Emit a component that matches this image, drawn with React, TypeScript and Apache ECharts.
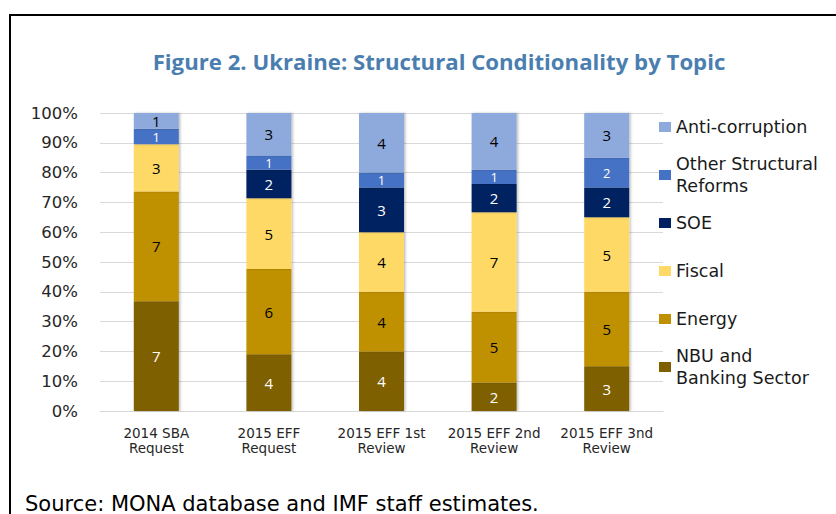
import React, { useEffect, useRef } from "react";
import * as echarts from "echarts";

const categories = ["2014 SBA\nRequest", "2015 EFF\nRequest", "2015 EFF 1st\nReview", "2015 EFF 2nd\nReview", "2015 EFF 3nd\nReview"];
const nbu = [7, 4, 4, 2, 3];
const energy = [7, 6, 4, 5, 5];
const fiscal = [3, 5, 4, 7, 5];
const soe = [0, 2, 3, 2, 2];
const otherReforms = [1, 1, 1, 1, 2];
const antiCorruption = [1, 3, 4, 4, 3];
const yTicks = [0, 10, 20, 30, 40, 50, 60, 70, 80, 90, 100];

const seriesDefs = [
  { name: "NBU and\nBanking Sector", data: nbu, color: "#7F6000", label: "#ffffff", labelSize: 15, legendY: 367, twoLine: true },
  { name: "Energy", data: energy, color: "#BF9000", label: "#000000", labelSize: 15, legendY: 319, twoLine: false },
  { name: "Fiscal", data: fiscal, color: "#FFD966", label: "#000000", labelSize: 15, legendY: 271, twoLine: false },
  { name: "SOE", data: soe, color: "#002060", label: "#ffffff", labelSize: 15, legendY: 223, twoLine: false },
  { name: "Other Structural\nReforms", data: otherReforms, color: "#4472C4", label: "#ffffff", labelSize: 13, legendY: 175, twoLine: true },
  { name: "Anti-corruption", data: antiCorruption, color: "#8EA9DB", label: "#000000", labelSize: 15, legendY: 127, twoLine: false },
];

const FONT = "'Open Sans', 'Noto Sans', sans-serif";
const WIDE = "'DejaVu Sans', 'Open Sans', sans-serif";

export default function App() {
  const ref = useRef<HTMLDivElement>(null);
  useEffect(() => {
    if (!ref.current) return;
    const chart = echarts.init(ref.current, null, { renderer: "svg" });
    const totals = categories.map((_, i) => seriesDefs.reduce((s, d) => s + d.data[i], 0));
    const series = seriesDefs.map((d) => ({
      name: d.name,
      type: "bar",
      stack: "total",
      barWidth: 45,
      data: d.data.map((v, i) => ({ value: (v / totals[i]) * 100, count: v })),
      itemStyle: { color: d.color, shadowColor: "rgba(0,0,0,0.25)", shadowBlur: 2, shadowOffsetX: 1.5 },
      label: {
        show: true,
        position: "inside",
        color: d.label,
        fontFamily: FONT,
        fontSize: d.labelSize,
        lineHeight: 12,
        formatter: (p: any) => (p.data.count ? String(p.data.count) : ""),
      },
    }));
    const legends = seriesDefs.map((d) => {
      const lh = 21.5;
      return {
        data: [d.name],
        orient: "vertical",
        left: 659,
        top: d.twoLine ? d.legendY - 1.5 * lh : d.legendY - lh / 2,
        padding: 0,
        itemWidth: 12,
        itemHeight: 10,
        itemGap: 6,
        icon: "rect",
        selectedMode: false,
        textStyle: {
          fontFamily: WIDE,
          fontSize: 17.5,
          color: "#1a1a1a",
          lineHeight: lh,
          padding: d.twoLine ? [lh, 0, 0, 0] : 0,
        },
      };
    });
    chart.setOption({
      animation: false,
      backgroundColor: "#ffffff",
      title: {
        text: "Figure 2. Ukraine: Structural Conditionality by Topic",
        left: 434,
        textAlign: "center",
        top: 45,
        textStyle: { fontFamily: FONT, fontSize: 22.2, fontWeight: "bold", color: "#4A7EB0" },
      },
      graphic: [
        {
          type: "rect",
          shape: { x: 10, y: 15, width: 900, height: 600 },
          style: { fill: "none", stroke: "#000000", lineWidth: 2 },
          silent: true,
        },
        {
          type: "text",
          left: 25,
          top: 493,
          style: { text: "Source: MONA database and IMF staff estimates.", fontFamily: WIDE, fontSize: 21, fill: "#000000" },
        },
      ],
      legend: legends,
      grid: { left: 100, right: 173, top: 113, bottom: 103 },
      xAxis: {
        type: "category",
        data: categories,
        axisLine: { show: true, lineStyle: { color: "#d9d9d9", width: 1 } },
        axisTick: { show: false },
        axisLabel: { interval: 0, fontFamily: WIDE, fontSize: 13.5, color: "#262626", lineHeight: 15, margin: 14 },
      },
      yAxis: {
        type: "value",
        min: 0,
        max: 100,
        interval: 10,
        axisLine: { show: false },
        axisTick: { show: false },
        splitLine: { lineStyle: { color: "#d9d9d9", width: 1 } },
        axisLabel: {
          fontFamily: WIDE,
          fontSize: 16.5,
          color: "#262626",
          margin: 22,
          formatter: (v: number) => (yTicks.includes(v) ? v + "%" : ""),
        },
      },
      series,
    });
    return () => chart.dispose();
  }, []);
  return <div ref={ref} style={{ position: "fixed", left: 0, top: 0, width: 836, height: 514 }} />;
}
